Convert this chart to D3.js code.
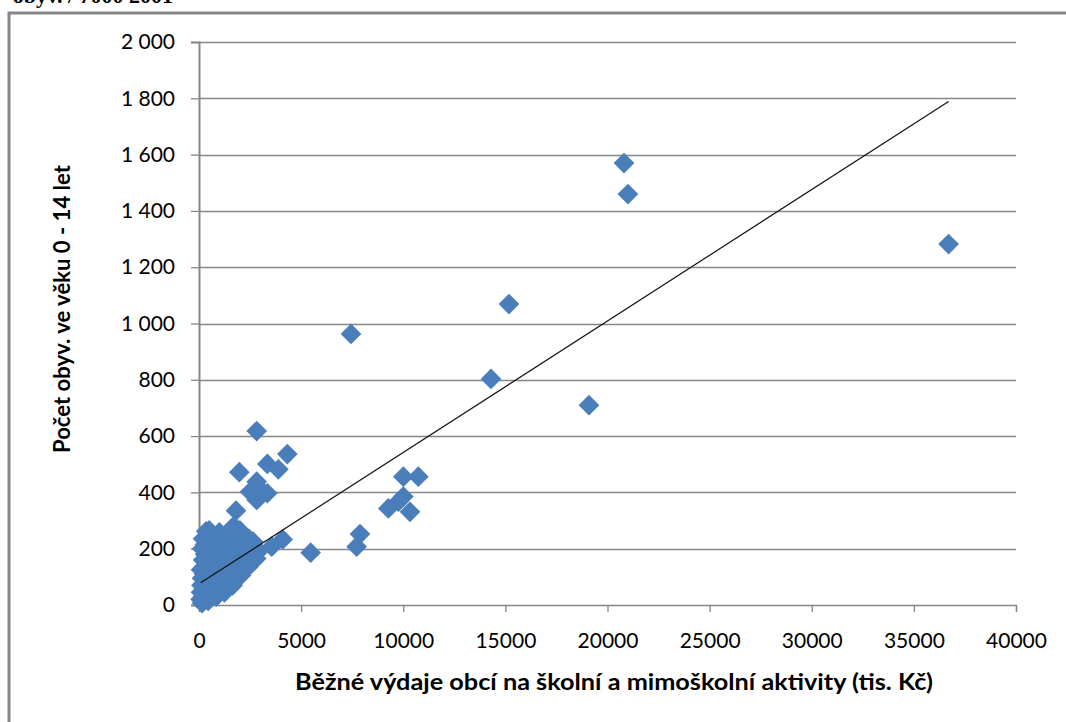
<!DOCTYPE html>
<html>
<head>
<meta charset="utf-8">
<script src="https://cdn.jsdelivr.net/npm/d3@7"></script>
<style>
  html, body { margin: 0; padding: 0; background: #fff; overflow: hidden; }
  svg { display: block; }
</style>
</head>
<body>
<svg id="chart" width="1066" height="722"></svg>
<script>
// ---- data ----
const expenditure = [
  150, 80, 200, 100, 250, 120, 300, 150, 250, 100, 300, 200, 300, 150, 300, 200, 350,
  450, 500, 600, 450, 650, 500, 600, 700, 500, 650, 550, 700, 600, 500,
  850, 950, 800, 1000, 900, 1050, 850, 1000, 900, 1050, 950, 850, 1000,
  1250, 1350, 1200, 1400, 1300, 1450, 1250, 1400, 1300, 1450, 1350,
  1650, 1750, 1600, 1850, 1700, 1800, 1650, 1900, 1750, 1600, 1850, 1700, 1811, 2000,
  2050, 2150, 2000, 2250, 2100, 2300, 2050, 2200, 2100,
  2400, 2550, 2450, 2600, 2500, 2650, 2450,
  2800, 2900, 2750,
  2825, 4325, 3345, 3885, 1975, 2825, 3345, 2497, 2825, 3000, 3559, 4097,
  5467, 7882, 7719, 10004, 10738, 10004, 9269, 10330, 9760,
  7442, 14296, 15177, 19094, 20808, 21000, 36700
];
const children = [
  7, 20, 30, 45, 55, 70, 80, 95, 110, 125, 140, 160, 180, 200, 215, 235, 262,
  15, 35, 55, 75, 90, 110, 130, 150, 170, 190, 210, 230, 250, 265,
  30, 50, 70, 85, 105, 125, 145, 165, 185, 205, 225, 245, 258,
  45, 65, 90, 110, 130, 150, 170, 190, 210, 230, 250,
  70, 90, 110, 120, 140, 160, 180, 195, 215, 240, 250, 280, 335, 265,
  105, 125, 145, 150, 170, 180, 200, 215, 240,
  135, 150, 170, 190, 210, 225, 235,
  165, 190, 205,
  618, 536, 501, 482, 472, 438, 397, 402, 373, 410, 207, 233,
  186, 252, 207, 456, 456, 385, 343, 331, 367,
  963, 803, 1069, 710, 1570, 1460, 1282
];
// linear trend line
const trendSlope = 0.0467;
const trendIntercept = 75;

const xTicks = [0, 5000, 10000, 15000, 20000, 25000, 30000, 35000, 40000];
const xTickLabels = ["0", "5000", "10000", "15000", "20000", "25000", "30000", "35000", "40000"];
const yTicks = [0, 200, 400, 600, 800, 1000, 1200, 1400, 1600, 1800, 2000];
const yTickLabels = ["0", "200", "400", "600", "800", "1 000", "1 200", "1 400", "1 600", "1 800", "2 000"];

const xTitle = "Běžné výdaje obcí na školní a mimoškolní aktivity (tis. Kč)";
const yTitle = "Počet obyv. ve věku 0 - 14 let";
const topCaption = "obyv. / 7000 2001";

// ---- drawing ----
const svg = d3.select("#chart");
const gray = "#868686";
const blue = "#4A7EBB";
const tickFont = "Lato, 'Open Sans', sans-serif";

const x = d3.scaleLinear().domain([0, 40000]).range([199, 1016]);
const y = d3.scaleLinear().domain([0, 2000]).range([605, 42]);

// clipped caption at top (cut off in the reference as well)
svg.append("text")
  .attr("x", 173).attr("y", 3)
  .attr("text-anchor", "end")
  .attr("font-family", "'Liberation Serif', serif")
  .attr("font-weight", "bold")
  .attr("font-size", 22)
  .attr("fill", "#000")
  .text(topCaption);

// frame
svg.append("rect")
  .attr("x", 9).attr("y", 13)
  .attr("width", 1200).attr("height", 900)
  .attr("fill", "none")
  .attr("stroke", gray)
  .attr("stroke-width", 3);

// gridlines
svg.append("g")
  .selectAll("line")
  .data(yTicks.filter(d => d > 0))
  .join("line")
  .attr("x1", x(0)).attr("x2", x(40000))
  .attr("y1", d => Math.round(y(d)) + 0.5).attr("y2", d => Math.round(y(d)) + 0.5)
  .attr("stroke", gray).attr("stroke-width", 1.3);

// y axis
const yAxis = d3.axisLeft(y)
  .tickValues(yTicks)
  .tickSize(8)
  .tickPadding(16)
  .tickFormat((d, i) => yTickLabels[i]);
const gy = svg.append("g").attr("transform", `translate(${x(0)},0)`).call(yAxis);
gy.select(".domain").attr("stroke", gray).attr("stroke-width", 2);
gy.selectAll(".tick line").attr("stroke", gray).attr("stroke-width", 1.3);
gy.selectAll(".tick text")
  .attr("font-family", tickFont)
  .attr("font-size", 21)
  .attr("fill", "#000");

// x axis
const xAxis = d3.axisBottom(x)
  .tickValues(xTicks)
  .tickSize(7)
  .tickPadding(21)
  .tickFormat((d, i) => xTickLabels[i]);
const gx = svg.append("g").attr("transform", `translate(0,${y(0)})`).call(xAxis);
gx.select(".domain").attr("stroke", gray).attr("stroke-width", 1.3);
gx.selectAll(".tick line").attr("stroke", gray).attr("stroke-width", 1.3);
gx.selectAll(".tick text")
  .attr("font-family", tickFont)
  .attr("font-size", 21)
  .attr("fill", "#000");

// points
const pts = expenditure.map((v, i) => ({ x: v, y: children[i] }));
const diamond = d3.symbol().type(d3.symbolSquare).size(215);
svg.append("g")
  .selectAll("path")
  .data(pts)
  .join("path")
  .attr("d", diamond)
  .attr("transform", d => `translate(${x(d.x)},${y(d.y)}) rotate(45)`)
  .attr("fill", blue);

// trend line
const xMin = d3.min(expenditure), xMax = d3.max(expenditure);
svg.append("line")
  .attr("x1", x(xMin)).attr("y1", y(trendIntercept + trendSlope * xMin))
  .attr("x2", x(xMax)).attr("y2", y(trendIntercept + trendSlope * xMax))
  .attr("stroke", "#111").attr("stroke-width", 1.2);

// axis titles
svg.append("text")
  .attr("x", 614).attr("y", 690)
  .attr("text-anchor", "middle")
  .attr("font-family", tickFont)
  .attr("font-weight", "bold")
  .attr("font-size", 22)
  .attr("textLength", 638)
  .attr("lengthAdjust", "spacingAndGlyphs")
  .text(xTitle);

svg.append("text")
  .attr("transform", "translate(70,309) rotate(-90)")
  .attr("text-anchor", "middle")
  .attr("font-family", tickFont)
  .attr("font-weight", "bold")
  .attr("font-size", 22)
  .attr("textLength", 288)
  .attr("lengthAdjust", "spacingAndGlyphs")
  .text(yTitle);
</script>
</body>
</html>
